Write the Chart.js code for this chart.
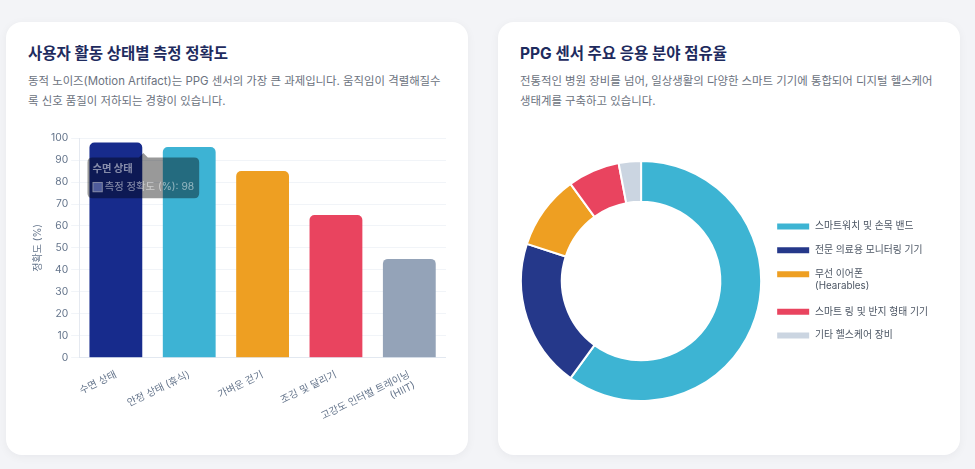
<!DOCTYPE html>
<html lang="ko">
<head>
<meta charset="utf-8">
<title>PPG 센서</title>
<script src="https://cdn.jsdelivr.net/npm/chart.js@4.4.1/dist/chart.umd.min.js"></script>
<style>
  html, body { margin: 0; padding: 0; }
  body {
    width: 975px; height: 469px; overflow: hidden;
    background: #f3f4f7;
    font-family: Inter, "Noto Sans CJK KR", sans-serif;
  }
  .card {
    position: absolute; top: 22px; width: 462px; height: 433px;
    box-sizing: border-box; padding: 21px 22px 0 22px;
    background: #fff; border-radius: 16px;
    box-shadow: 0 2px 10px rgba(15, 23, 42, 0.05);
  }
  #left { left: 6px; }
  #right { left: 498px; }
  h2 {
    margin: 0; font-size: 15.5px; line-height: 22px; font-weight: 700;
    color: #1e2b5e;
  }
  p {
    margin: 6px 0 0 0; font-size: 11.4px; line-height: 20px; color: #6b7280;
  }
  .box { position: absolute; left: 22px; right: 22px; top: 107px; height: 307px; }
  #right .box { top: 109px; height: 300px; }
</style>
</head>
<body>
<div class="card" id="left">
  <h2>사용자 활동 상태별 측정 정확도</h2>
  <p>동적 노이즈(Motion Artifact)는 PPG 센서의 가장 큰 과제입니다. 움직임이 격렬해질수록 신호 품질이 저하되는 경향이 있습니다.</p>
  <div class="box"><canvas id="myChart_accuracy"></canvas></div>
</div>
<div class="card" id="right">
  <h2>PPG 센서 주요 응용 분야 점유율</h2>
  <p>전통적인 병원 장비를 넘어, 일상생활의 다양한 스마트 기기에 통합되어 디지털 헬스케어 생태계를 구축하고 있습니다.</p>
  <div class="box"><canvas id="myChart_share"></canvas></div>
</div>

<script>
// hoat dong
var activities = ['수면 상태', '안정 상태 (휴식)', '가벼운 걷기', '조깅 및 달리기', ['고강도 인터벌 트레이닝', '(HIIT)']];
var accuracy = [98, 96, 85, 65, 45];
var accuracyTicks = [0, 10, 20, 30, 40, 50, 60, 70, 80, 90, 100];

// ung dung
var fields = ['스마트워치 및 손목 밴드', '전문 의료용 모니터링 기기', ['무선 이어폰', '(Hearables)'], '스마트 링 및 반지 형태 기기', '기타 헬스케어 장비'];
var shares = [60, 20, 10, 7, 3];

Chart.defaults.font.family = "Inter, 'Noto Sans CJK KR', sans-serif";
Chart.defaults.font.size = 10.3;
Chart.defaults.color = '#64748b';

// tooltip dat lech ve phia phai cot, nhu luc chuot dang di chuyen
Chart.Tooltip.positioners.hover = function(items) {
    if (!items.length) return false;
    var el = items[0].element;
    return { x: el.x + el.width * 0.52, y: el.y + 9 };
};

var ctx = document.getElementById("myChart_accuracy");
var barChart = new Chart(ctx, {
    type: 'bar',
    data: {
        labels: activities,
        datasets: [{
            label: '측정 정확도 (%)',
            data: accuracy,
            backgroundColor: ['#172b8c', '#3db3d4', '#ee9f22', '#e9445f', '#94a3b8'],
            borderRadius: 5
        }]
    },
    options: {
        responsive: true,
        maintainAspectRatio: false,
        animation: false,
        plugins: {
            legend: { display: false },
            tooltip: {
                position: 'hover',
                xAlign: 'center',
                yAlign: 'top',
                padding: 5,
                caretSize: 4.5,
                caretPadding: 1.5,
                cornerRadius: 5,
                backgroundColor: 'rgba(0,0,0,0.8)',
                titleFont: { size: 10.3, weight: 'bold' },
                bodyFont: { size: 10.3 }
            }
        },
        scales: {
            y: {
                min: 0,
                max: 100,
                afterBuildTicks: function(axis) {
                    axis.ticks = accuracyTicks.map(function(v) { return { value: v }; });
                },
                ticks: { color: '#64748b', font: { size: 10.3 } },
                grid: { color: '#f1f4f8' },
                border: { color: '#e5e9f0' },
                title: { display: true, text: '정확도 (%)', color: '#64748b', font: { size: 10 } }
            },
            x: {
                grid: { display: false },
                border: { color: '#e2e8f0' },
                ticks: { color: '#64748b', font: { size: 10 }, minRotation: 26, maxRotation: 26 }
            }
        }
    }
});

// hien tooltip cot dau tien
barChart.tooltip.setActiveElements([{ datasetIndex: 0, index: 0 }], { x: 0, y: 0 });
barChart.update();
barChart.tooltip.opacity = 0.5;
barChart.draw();

var ctx2 = document.getElementById("myChart_share");
var donut = new Chart(ctx2, {
    type: 'doughnut',
    data: {
        labels: fields,
        datasets: [{
            label: '점유율 (%)',
            data: shares,
            backgroundColor: ['#3db4d3', '#25388a', '#ee9f22', '#e9445f', '#cbd5e1'],
            borderColor: '#ffffff',
            borderWidth: 2
        }]
    },
    options: {
        responsive: true,
        maintainAspectRatio: false,
        animation: false,
        cutout: '66%',
        plugins: {
            legend: {
                position: 'right',
                labels: {
                    boxWidth: 34,
                    boxHeight: 8,
                    padding: 14,
                    color: '#4b5563',
                    font: { size: 9.8 }
                }
            }
        }
    }
});
</script>
</body>
</html>
